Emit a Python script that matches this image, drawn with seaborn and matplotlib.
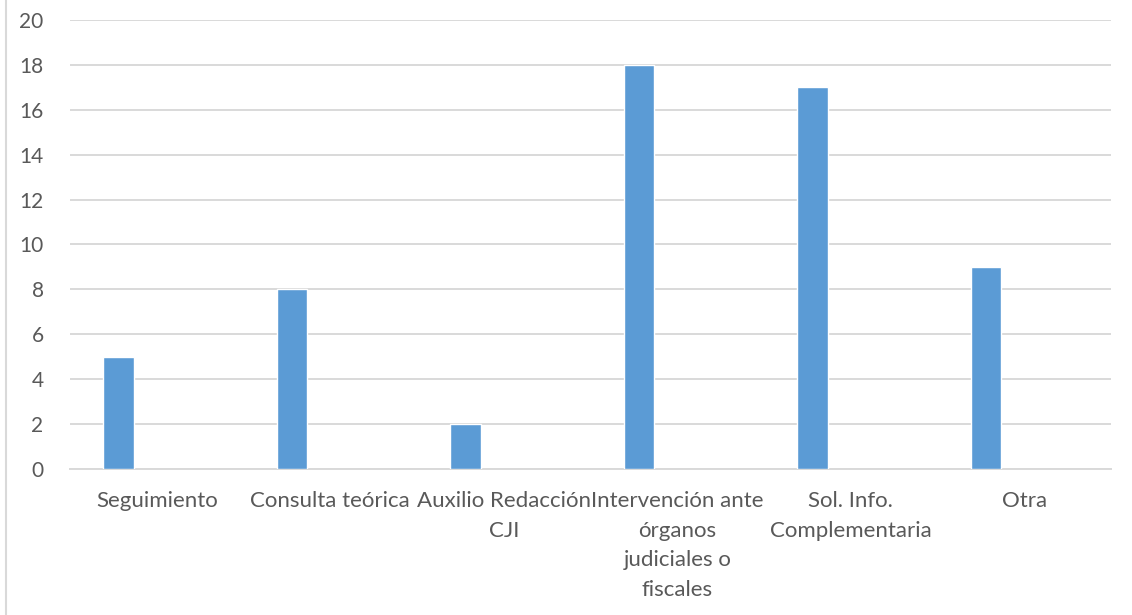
import numpy as np
import matplotlib
matplotlib.use("Agg")
import matplotlib.pyplot as plt
import seaborn as sns
from matplotlib.lines import Line2D

categories = [
    "Seguimiento",
    "Consulta teórica",
    "Auxilio Redacción\nCJI",
    "Intervención ante\nórganos\njudiciales o\nfiscales",
    "Sol. Info.\nComplementaria",
    "Otra",
]
values = [5, 8, 2, 18, 17, 9]
y_ticks = [0, 2, 4, 6, 8, 10, 12, 14, 16, 18, 20]

BAR_COLOR = "#5b9bd5"
TEXT_COLOR = "#595959"
GRID_COLOR = "#d9d9d9"

sns.set_theme(style="white")
plt.rcParams["font.family"] = ["Lato", "DejaVu Sans"]

fig = plt.figure(figsize=(11.32, 6.15), dpi=100)
ax = fig.add_axes([70 / 1132, 1 - 469 / 615, (1111 - 70) / 1132, (469 - 20) / 615])

# bars sit left of each category centre, as in a clustered layout
idx = np.arange(len(categories))
bar_pos = idx - 0.221
sns.barplot(x=bar_pos, y=values, native_scale=True, width=0.175,
            color=BAR_COLOR, saturation=1, ax=ax, zorder=3)

ax.set_xlim(-0.5, len(categories) - 0.5)
ax.set_ylim(0, 20)
ax.set_xticks(idx)
ax.set_xticklabels(categories, fontsize=16, color=TEXT_COLOR, linespacing=1.6)
ax.set_yticks(y_ticks)
ax.set_yticklabels([str(v) for v in y_ticks], fontsize=15, color=TEXT_COLOR)
ax.tick_params(axis="x", length=0, pad=16)
ax.tick_params(axis="y", length=0, pad=19)
for lbl in ax.get_xticklabels():
    lbl.set_verticalalignment("top")
    lbl.set_horizontalalignment("center")

ax.yaxis.grid(True, color=GRID_COLOR, linewidth=1.4, zorder=0)
ax.set_axisbelow(True)
for side in ["top", "right", "left"]:
    ax.spines[side].set_visible(False)
ax.spines["bottom"].set_color(GRID_COLOR)
ax.spines["bottom"].set_linewidth(1.4)
ax.set_xlabel("")
ax.set_ylabel("")

# chart frame edge on the left
fig.add_artist(Line2D([6 / 1132, 6 / 1132], [0, 1], transform=fig.transFigure,
                      color="#d9d9d9", linewidth=1.5))

fig.savefig("out.png", dpi=100, facecolor="white")
